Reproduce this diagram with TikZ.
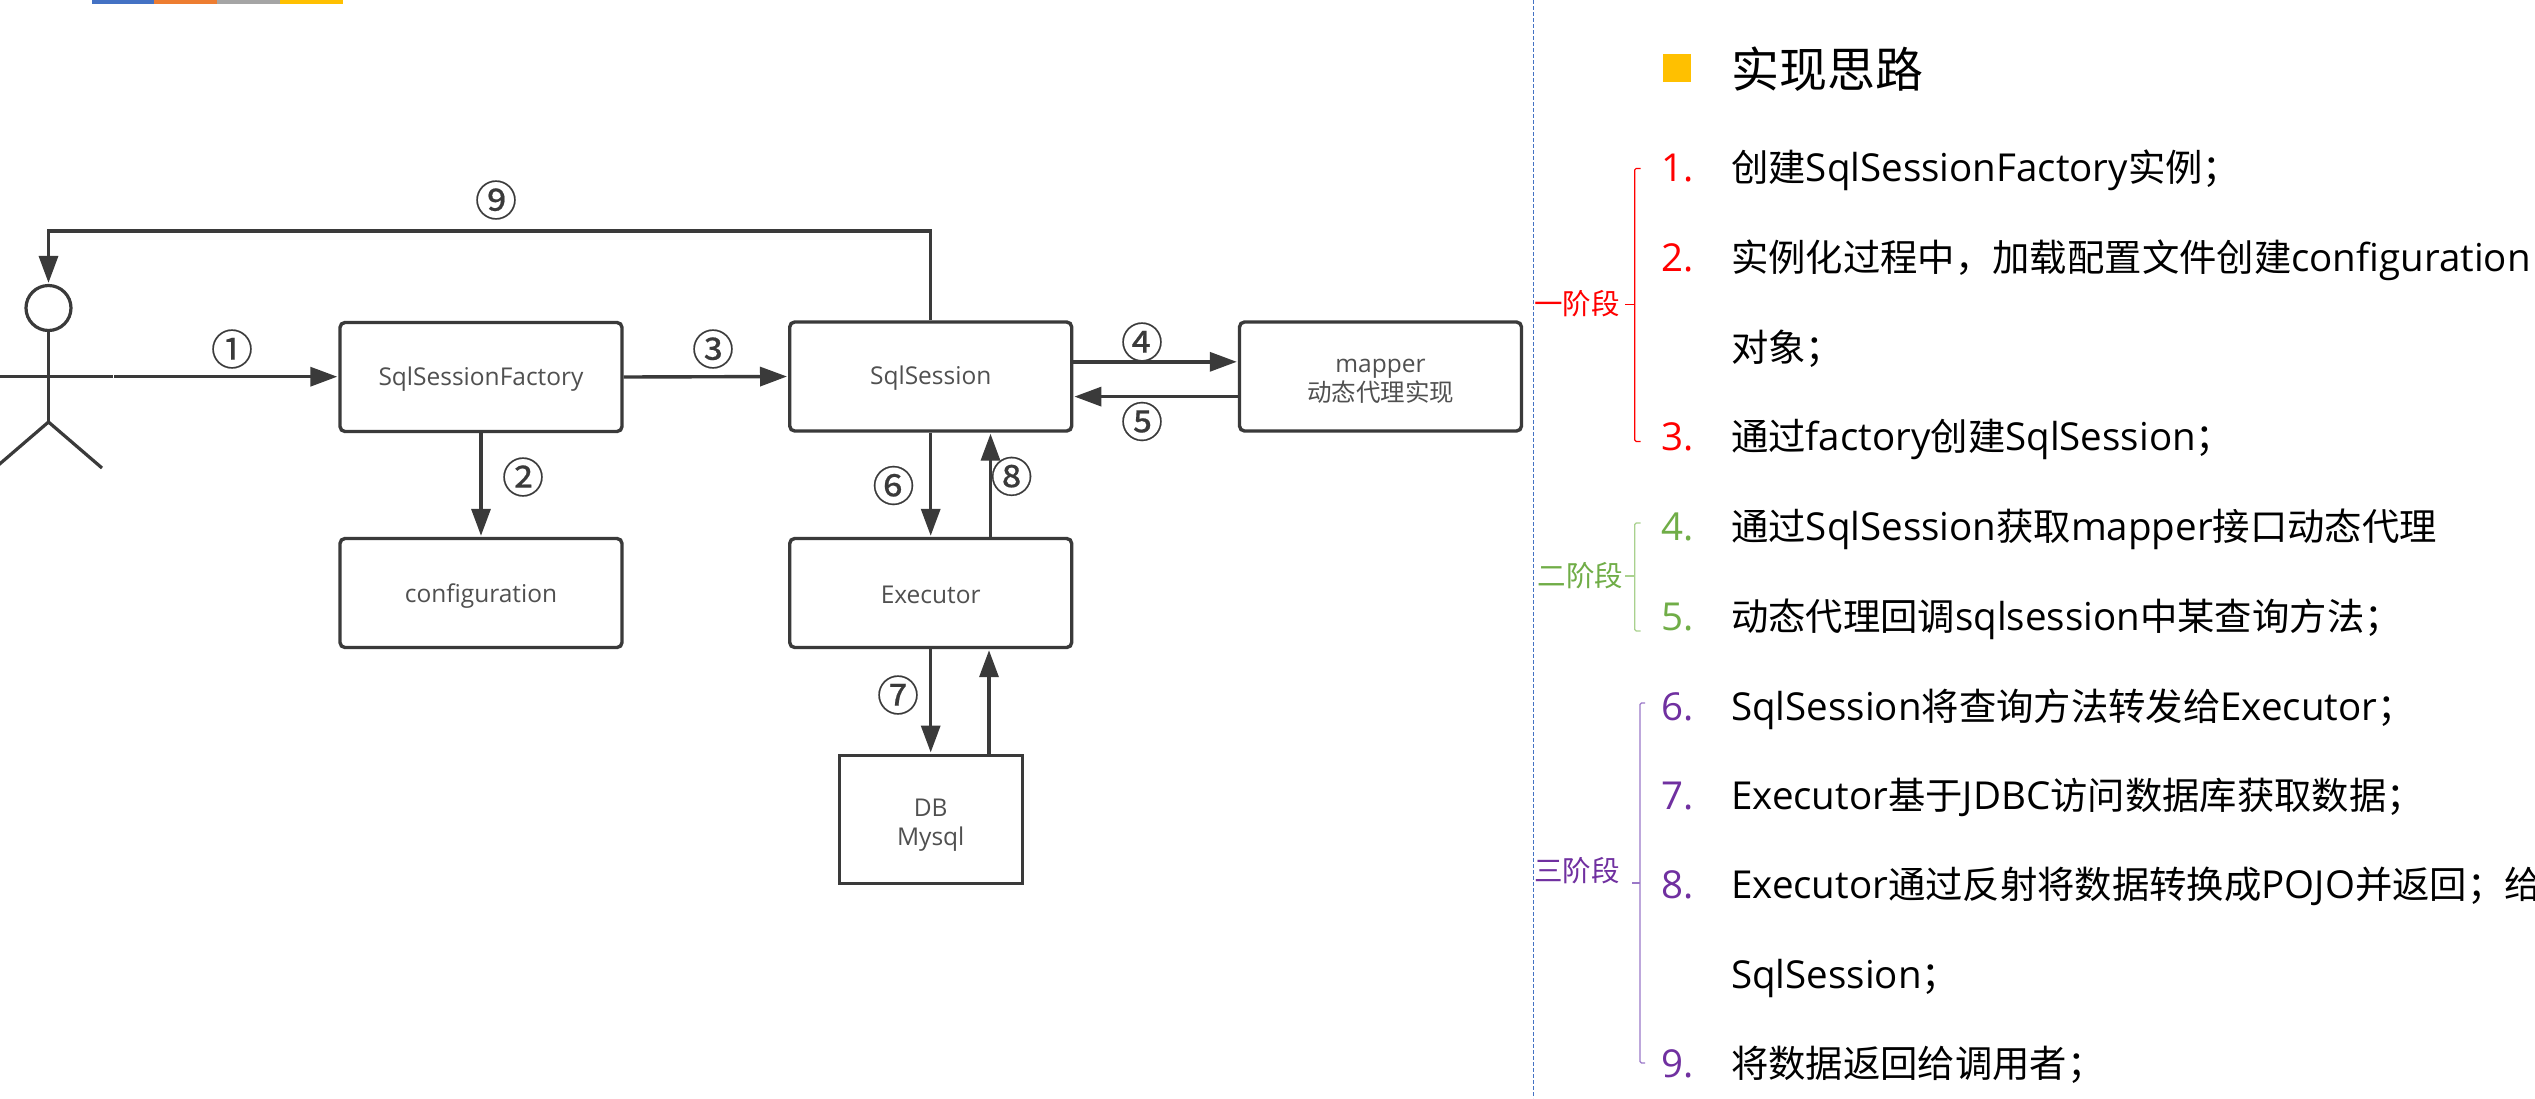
\documentclass[tikz,border=0pt]{standalone}
\usepackage{fontspec}
\setmainfont{Open Sans}
\newfontfamily\cjk{Noto Sans CJK SC}
\newfontfamily\cjki{Noto Sans CJK SC}[Scale=0.97]
\newfontfamily\circfont{Noto Sans CJK SC}[FakeBold=0.5]
\usetikzlibrary{arrows.meta,calc}
\definecolor{ink}{HTML}{3A3A3A}
\definecolor{boxtext}{HTML}{505050}
\definecolor{stepred}{HTML}{FF0000}
\definecolor{stepgreen}{HTML}{70AD47}
\definecolor{steppurple}{HTML}{7030A0}
\definecolor{bracepurple}{HTML}{9B78C8}
\definecolor{braceGreen}{HTML}{A9D18E}
\definecolor{gridblue}{HTML}{4472C4}
\definecolor{barorange}{HTML}{ED7D31}
\definecolor{bargray}{HTML}{A5A5A5}
\definecolor{baryellow}{HTML}{FFC000}
% lowers a line of box text without changing the size of the node around it
\newcommand\nudge[2]{\raisebox{-#1}[\height][\depth]{#2}}
\tikzset{
  flowbox/.style={draw=ink,line width=3.4pt,rounded corners=5pt,minimum width=282pt,minimum height=109pt,
    inner sep=0pt,text=boxtext,align=center,font=\fontsize{24.5}{29}\selectfont},
  dbbox/.style={draw=ink,line width=3.4pt,minimum width=183pt,minimum height=128pt,inner sep=0pt,
    text=boxtext,align=center,font=\fontsize{24.5}{29}\selectfont},
  arr/.style={draw=ink,line width=3.4pt,-{Triangle[length=27pt,width=19pt]},shorten >=1pt},
  limb/.style={draw=ink,line width=3.2pt},
  circnum/.style={text=ink,inner sep=0pt,font=\circfont\fontsize{42}{42}\selectfont},
  itemtext/.style={anchor=base west,inner sep=0pt,text=black,font=\fontsize{38.5}{38.5}\selectfont},
  itemnum/.style={anchor=base west,inner sep=0pt,font=\fontsize{38.5}{38.5}\selectfont},
  stagelabel/.style={inner sep=0pt,font=\cjk\fontsize{28.5}{29}\selectfont},
  brace/.style={line width=1.2pt,rounded corners=1.5pt},
}
\begin{document}
\begin{tikzpicture}[x=1pt,y=-1pt]
\useasboundingbox (0,0) rectangle (2535,1098);
\clip (0,0) rectangle (2535,1098);
\fill[white] (0,0) rectangle (2535,1098);

% colour strip along the top edge
\fill[gridblue] (92,0) rectangle (154,4);
\fill[barorange] (154,0) rectangle (217,4);
\fill[bargray] (217,0) rectangle (280,4);
\fill[baryellow] (280,0) rectangle (343,4);

% column separator
\coordinate (septop) at (1533.7,0);
\coordinate (sepbot) at (1533.7,1098);
\draw[gridblue,line width=1pt,dash pattern=on 4pt off 2pt] (septop) -- (sepbot);

% flow boxes
\node[flowbox] (factory) at (481,377) {\nudge{2pt}{SqlSessionFactory}};
\node[flowbox] (config) at (481,593) {\nudge{3pt}{configuration}};
\node[flowbox] (session) at (930.7,376.5) {\nudge{2pt}{SqlSession}};
\node[flowbox] (mapper) at (1380.5,376.5) {\nudge{5pt}{mapper}\\\nudge{5pt}{\cjk 动态代理实现}};
\node[flowbox] (executor) at (930.7,593) {\nudge{2pt}{Executor}};
\node[dbbox] (db) at (930.7,819.2) {\nudge{6pt}{DB}\\\nudge{6pt}{Mysql}};

% stick figure
\node[draw=ink,line width=3.2pt,circle,minimum size=45pt,inner sep=0pt] (head) at (48.5,308) {};
\coordinate (hip) at (48.5,422);
\coordinate (footl) at (-5,468);
\coordinate (footr) at (102,468);
\coordinate (start) at (0,376.7);
\draw[limb] (head.south) -- (hip);
\draw[limb] (footl) -- (hip) -- (footr);

% connectors
\draw[arr] (start) -- (factory.west |- start);
\draw[white,line width=1pt] (113,374.5) -- (113,378.9);
\draw[arr] (factory.south) -- (config.north);
\draw[arr] (factory.east) -- (session.west);
\draw[arr] (session.east |- 0,361.8) -- (mapper.west |- 0,361.8);
\draw[arr] (mapper.west |- 0,396.6) -- (session.east |- 0,396.6);
\draw[arr] (session.south) -- (executor.north);
\draw[arr] (executor.north -| 990.5,0) -- (session.south -| 990.5,0);
\draw[arr] (executor.south) -- (db.north);
\draw[arr] (db.north -| 989,0) -- (executor.south -| 989,0);
\draw[arr] (session.north) |- (head.north |- 0,231) -- (head.north);

% step markers
\node[circnum] (m1) at (232,349) {①};
\node[circnum] (m2) at (523,477) {②};
\node[circnum] (m3) at (713,349) {③};
\node[circnum] (m4) at (1142,342) {④};
\node[circnum] (m5) at (1142,421.5) {⑤};
\node[circnum] (m6) at (893.5,485.5) {⑥};
\node[circnum] (m7) at (898,695) {⑦};
\node[circnum] (m8) at (1011.6,476.4) {⑧};
\node[circnum] (m9) at (496,200) {⑨};

% heading
\fill[baryellow] (1663,54) rectangle (1691.4,81.8);
\node[anchor=base west,inner sep=0pt,text=black,font=\cjk\fontsize{48}{48}\selectfont] (title) at (1731,87.5) {实现思路};

% numbered steps
\node[itemnum,text=stepred] (n1) at (1661.7,181) {1.};
\node[itemtext] (t1) at (1731,181) {{\cjki 创建}SqlSessionFactory{\cjki 实例；}};
\node[itemnum,text=stepred] (n2) at (1661.7,271) {2.};
\node[itemtext] (t2) at (1731,271) {{\cjki 实例化过程中，加载配置文件创建}configuration};
\node[itemtext] (t2b) at (1731,361) {{\cjki 对象；}};
\node[itemnum,text=stepred] (n3) at (1661.7,450.4) {3.};
\node[itemtext] (t3) at (1731,450.4) {{\cjki 通过}factory{\cjki 创建}SqlSession{\cjki ；}};
\node[itemnum,text=stepgreen] (n4) at (1661.7,540) {4.};
\node[itemtext] (t4) at (1731,540) {{\cjki 通过}SqlSession{\cjki 获取}mapper{\cjki 接口动态代理}};
\node[itemnum,text=stepgreen] (n5) at (1661.7,630) {5.};
\node[itemtext] (t5) at (1731,630) {{\cjki 动态代理回调}sqlsession{\cjki 中某查询方法；}};
\node[itemnum,text=steppurple] (n6) at (1661.7,720) {6.};
\node[itemtext] (t6) at (1731,720) {SqlSession{\cjki 将查询方法转发给}Executor{\cjki ；}};
\node[itemnum,text=steppurple] (n7) at (1661.7,809.4) {7.};
\node[itemtext] (t7) at (1731,809.4) {Executor{\cjki 基于}JDBC{\cjki 访问数据库获取数据；}};
\node[itemnum,text=steppurple] (n8) at (1661.7,898) {8.};
\node[itemtext] (t8) at (1731,898) {Executor{\cjki 通过反射将数据转换成}POJO{\cjki 并返回；给}};
\node[itemtext] (t8b) at (1731,988) {SqlSession{\cjki ；}};
\node[itemnum,text=steppurple] (n9) at (1661.7,1077) {9.};
\node[itemtext] (t9) at (1731,1077) {{\cjki 将数据返回给调用者；}};

% stage brackets with their labels
\node[stagelabel,text=stepred] (s1) at (1577,304) {一阶段};
\node[stagelabel,text=stepgreen] (s2) at (1580.5,576) {二阶段};
\node[stagelabel,text=steppurple] (s3) at (1577,871) {三阶段};
\coordinate (b1t) at (1640.6,168.4);
\coordinate (b1b) at (1640.6,441.4);
\coordinate (b2t) at (1640.6,523);
\coordinate (b2b) at (1640.6,631);
\coordinate (b3t) at (1645,703);
\coordinate (b3b) at (1645,1063);
\draw[brace,stepred] (b1t) -- (1634.7,168.4) -- (1634.7,441.4) -- (b1b);
\draw[brace,stepred] (1625,304.6) -- (1634.7,304.6);
\draw[brace,braceGreen] (b2t) -- (1634.7,523) -- (1634.7,631) -- (b2b);
\draw[brace,braceGreen] (1625,576) -- (1634.7,576);
\draw[brace,bracepurple] (b3t) -- (1640,703) -- (1640,1063) -- (b3b);
\draw[brace,bracepurple] (1632,883) -- (1640,883);
\end{tikzpicture}
\end{document}
